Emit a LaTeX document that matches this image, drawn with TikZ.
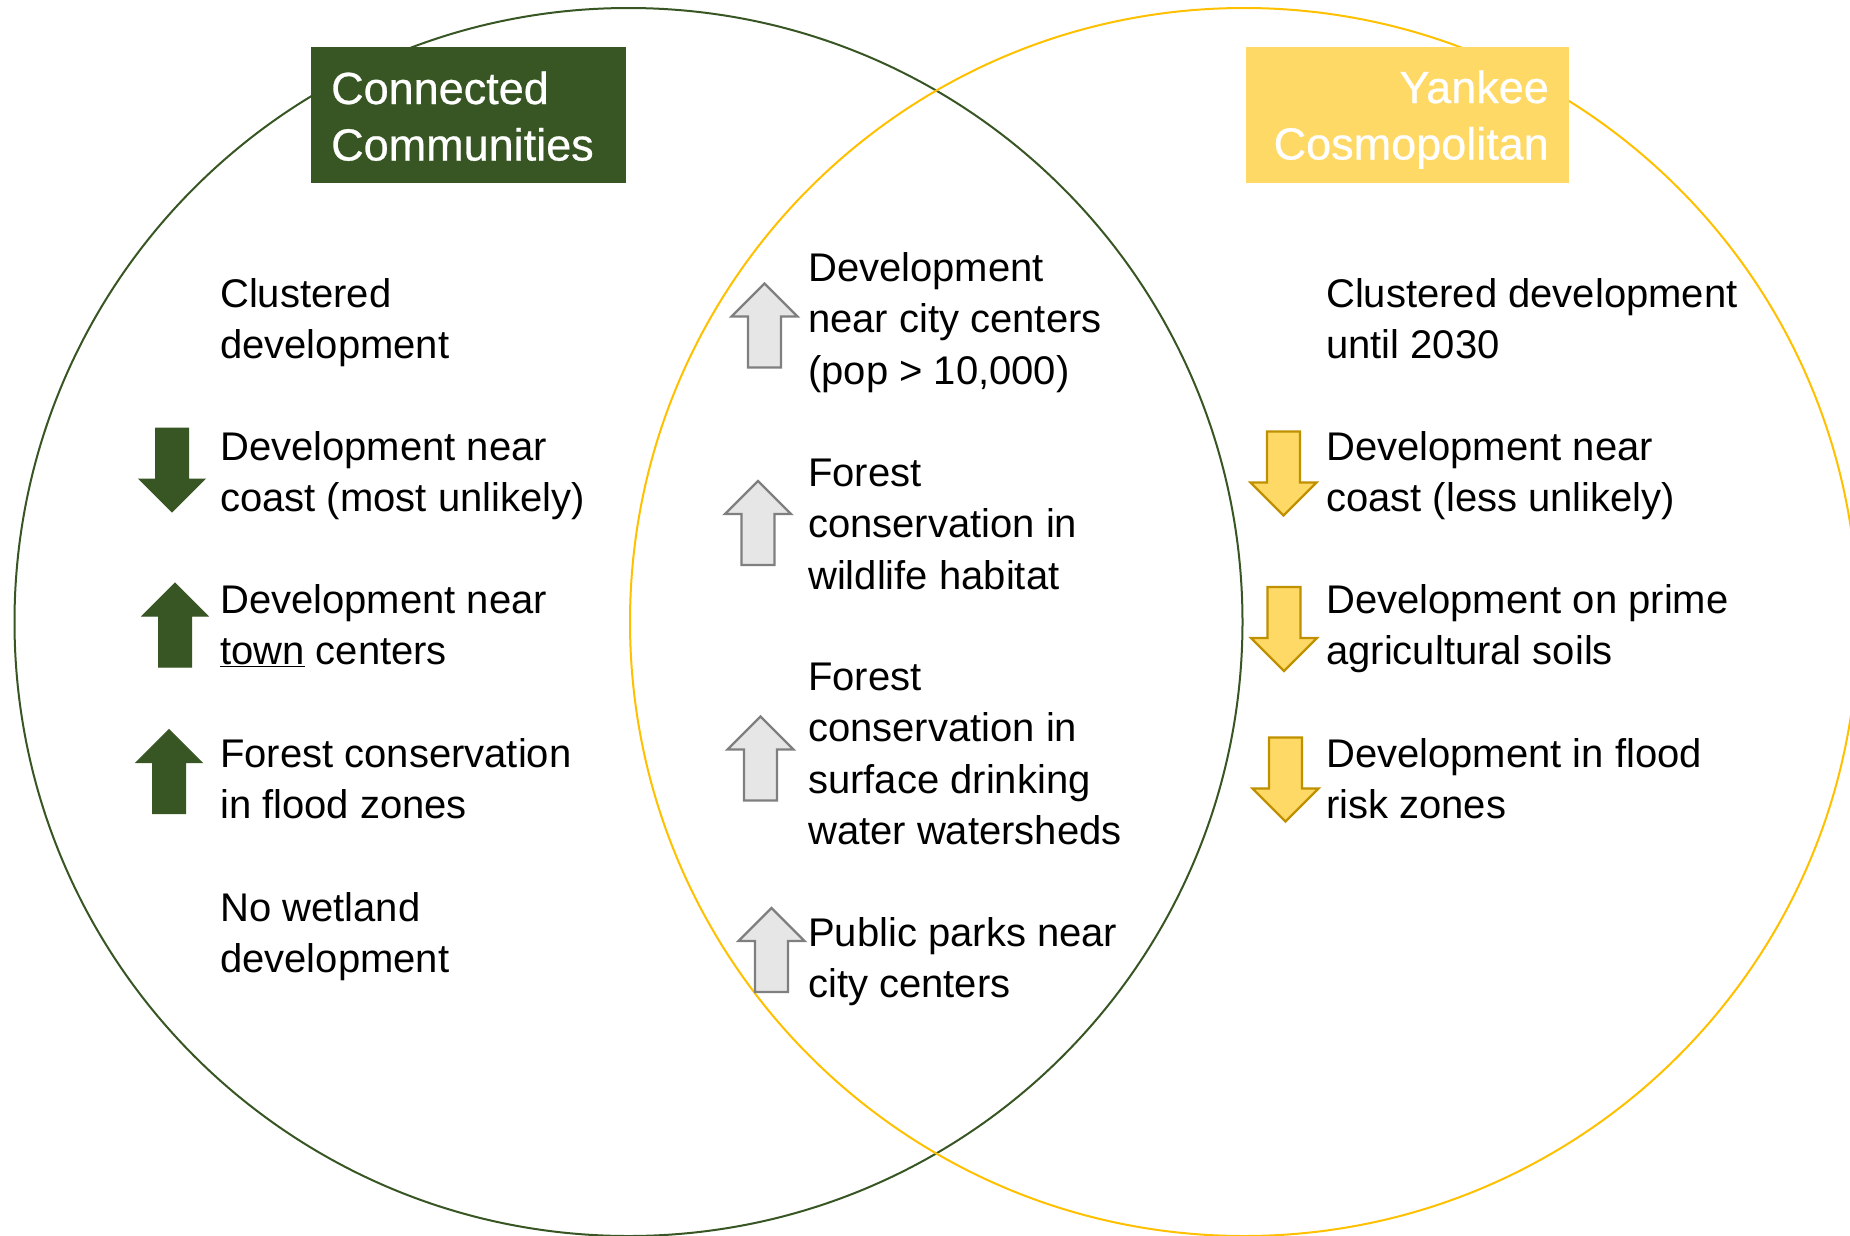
\documentclass[tikz,border=0pt]{standalone}
\usepackage{fontspec}
\setmainfont{Liberation Sans}
\newfontfamily\ttlfont{Liberation Sans}[FakeBold=0.6]
\definecolor{ccgreen}{HTML}{375623}
\definecolor{ycgold}{HTML}{FFC000}
\definecolor{ycfill}{HTML}{FFD966}
\definecolor{ycedge}{HTML}{BF9000}
\definecolor{grfill}{HTML}{E7E6E6}
\definecolor{gredge}{HTML}{7F7F7F}
\newcommand{\txtlines}[2]{\begin{tabular}[t]{@{}#1@{}}#2\end{tabular}}
\tikzset{
  body/.style={inner sep=0pt, anchor=base west, text=black, font=\fontsize{40}{51.5}\selectfont},
  titletext/.style={inner sep=0pt, text=white, font=\ttlfont\fontsize{45}{56.5}\selectfont},
  upshape/.pic={\path[pic actions] (-16.5,42) -- (-16.5,-9) -- (-33,-9) -- (0,-42) -- (33,-9) -- (16.5,-9) -- (16.5,42) -- cycle;},
  downshape/.pic={\path[pic actions] (-16.5,-42) -- (-16.5,9) -- (-33,9) -- (0,42) -- (33,9) -- (16.5,9) -- (16.5,-42) -- cycle;},
  greenarr/.style={fill=ccgreen, draw=ccgreen, line width=1pt},
  grayarr/.style={fill=grfill, draw=gredge, line width=2.4pt},
  yelarr/.style={fill=ycfill, draw=ycedge, line width=2.4pt},
}
\begin{document}
\begin{tikzpicture}[x=1pt,y=-1pt]
\useasboundingbox (0,0) rectangle (1850,1235);
\clip (0,0) rectangle (1850,1235);
% circles
\draw[ccgreen, line width=2pt] (628.5,622) circle[radius=614];
\draw[ycgold, line width=2pt] (1244,622) circle[radius=614];
% title boxes
\node[fill=ccgreen, minimum width=315, minimum height=136, inner sep=0pt, anchor=north west] (ccbox) at (311,47) {};
\node[fill=ycfill, minimum width=323, minimum height=136, inner sep=0pt, anchor=north west] (ycbox) at (1246,47) {};
\node[titletext, anchor=base west] (cctitle) at (331,104) {\txtlines{l}{Connected\\Communities}};
\node[titletext, anchor=base east] (yctitle) at (1549,103) {\txtlines{r}{Yankee\\Cosmopolitan}};
% left column
\node[body] (l1) at (220,307) {\txtlines{l}{Clustered\\development}};
\node[body] (l2) at (220,460) {\txtlines{l}{Development near\\coast (most unlikely)}};
\node[body] (l3) at (220,613) {\txtlines{l}{Development near\\\underline{town} centers}};
\node[body] (l4) at (220,767) {\txtlines{l}{Forest conservation\\in flood zones}};
\node[body] (l5) at (220,921) {\txtlines{l}{No wetland\\development}};
% middle column
\node[body] (m1) at (808,281) {\txtlines{l}{Development\\near city centers\\(pop > 10,000)}};
\node[body] (m2) at (808,486) {\txtlines{l}{Forest\\conservation in\\wildlife habitat}};
\node[body] (m3) at (808,690) {\txtlines{l}{Forest\\conservation in\\surface drinking\\water watersheds}};
\node[body] (m4) at (808,946) {\txtlines{l}{Public parks near\\city centers}};
% right column
\node[body] (r1) at (1326,307) {\txtlines{l}{Clustered development\\until 2030}};
\node[body] (r2) at (1326,460) {\txtlines{l}{Development near\\coast (less unlikely)}};
\node[body] (r3) at (1326,613) {\txtlines{l}{Development on prime\\agricultural soils}};
\node[body] (r4) at (1326,767) {\txtlines{l}{Development in flood\\risk zones}};
% arrows
\pic[greenarr] at (172,470) {downshape};
\pic[greenarr] at (175,625) {upshape};
\pic[greenarr] at (169,771.5) {upshape};
\pic[grayarr] at (764.5,325.5) {upshape};
\pic[grayarr] at (758,523) {upshape};
\pic[grayarr] at (760.5,758.5) {upshape};
\pic[grayarr] at (771.5,950) {upshape};
\pic[yelarr] at (1283.5,473.5) {downshape};
\pic[yelarr] at (1284,629) {downshape};
\pic[yelarr] at (1285.5,779.5) {downshape};
\end{tikzpicture}
\end{document}
